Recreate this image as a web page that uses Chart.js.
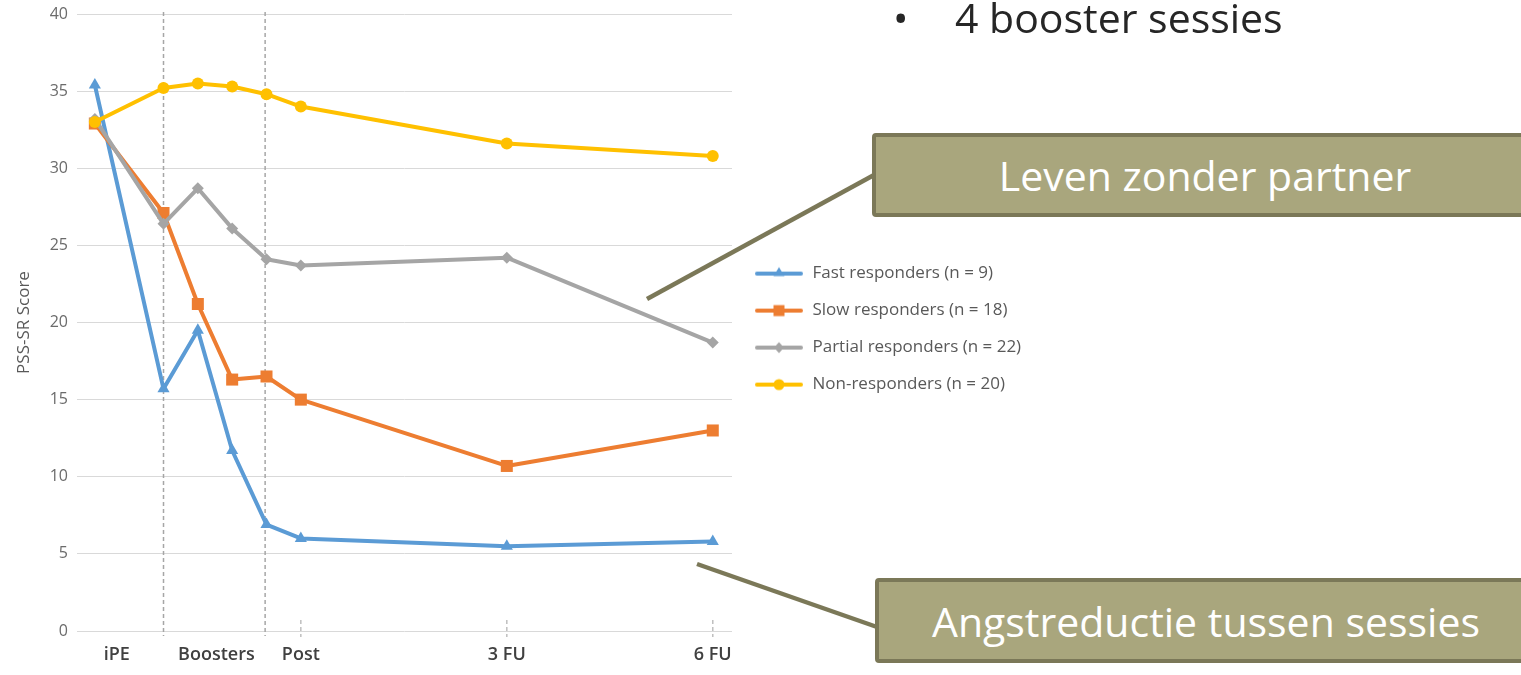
<!DOCTYPE html>
<html>
<head>
<meta charset="utf-8">
<script src="https://cdn.jsdelivr.net/npm/chart.js@4.4.1/dist/chart.umd.min.js"></script>
<style>
html,body{margin:0;padding:0;background:#fff;width:1521px;height:675px;overflow:hidden;font-family:'Open Sans',sans-serif;}
#chart{position:absolute;left:0;top:0;}
#conn{position:absolute;left:0;top:0;pointer-events:none;}
.box{position:absolute;background:#a9a67d;border:4px solid #7b7858;border-radius:4px;color:#fff;display:flex;align-items:center;justify-content:center;box-sizing:border-box;font-size:41px;font-weight:400;white-space:nowrap;}
#bullet{position:absolute;left:893px;top:-3px;font-size:41px;line-height:41px;color:#262626;white-space:nowrap;}
#bullet .dot{position:absolute;left:0;top:0;}
#bullet .txt{position:absolute;left:62px;top:0;}
</style>
</head>
<body>
<canvas id="chart" width="1521" height="675"></canvas>
<svg id="conn" width="1521" height="675">
  <line x1="647" y1="299" x2="874" y2="175" stroke="#7b7858" stroke-width="4.5"/>
  <line x1="697" y1="564" x2="877" y2="627" stroke="#7b7858" stroke-width="4.5"/>
</svg>
<div id="bullet"><span class="dot">•</span><span class="txt">4 booster sessies</span></div>
<div class="box" style="left:872px;top:133px;width:666px;height:84px;">Leven zonder partner</div>
<div class="box" style="left:875px;top:578px;width:662px;height:85px;">Angstreductie tussen sessies</div>
<script>
// ---- data ----
const categories = ['iPE', 'Boosters', 'Post', '3 FU', '6 FU'];
const categoryTicks = [0.32, 1.77, 3, 6, 9];
const timepoints = [0, 1, 1.5, 2, 2.5, 3, 6, 9];
const boosterBounds = [1, 2.48];
const followUpTicks = [3, 6, 9];
const seriesNames = ['Fast responders (n = 9)', 'Slow responders (n = 18)', 'Partial responders (n = 22)', 'Non-responders (n = 20)'];
const fast    = [35.4, 15.7, 19.5, 11.7, 6.9, 6.0, 5.5, 5.8];
const slow    = [32.9, 27.1, 21.2, 16.3, 16.5, 15.0, 10.7, 13.0];
const partial = [33.2, 26.4, 28.7, 26.1, 24.1, 23.7, 24.2, 18.7];
const nonResp = [33.0, 35.2, 35.5, 35.3, 34.8, 34.0, 31.6, 30.8];
const yTicks = [0, 5, 10, 15, 20, 25, 30, 35, 40];

// ---- styles ----
const colors = ['#5b9bd5', '#ed7d31', '#a5a5a5', '#ffc000'];
const pointStyles = ['triangle', 'rect', 'rectRot', 'circle'];
const pointRadii = [7, 8.5, 6, 6];
const allSeries = [fast, slow, partial, nonResp];

Chart.defaults.font.family = "'Open Sans', sans-serif";

function legendIcon(color, style) {
  const c = document.createElement('canvas');
  c.width = 52; c.height = 16;
  const g = c.getContext('2d');
  const cx = 27;
  g.strokeStyle = color; g.lineWidth = 4; g.lineCap = 'round';
  g.beginPath(); g.moveTo(5, 8); g.lineTo(49, 8); g.stroke();
  g.fillStyle = color; g.beginPath();
  if (style === 'triangle') { g.moveTo(cx, 1.5); g.lineTo(cx + 5.5, 10.5); g.lineTo(cx - 5.5, 10.5); g.closePath(); }
  else if (style === 'rect') { g.rect(cx - 5.5, 2.5, 11, 11); }
  else if (style === 'rectRot') { g.moveTo(cx, 2.5); g.lineTo(cx + 5, 8); g.lineTo(cx, 13.5); g.lineTo(cx - 5, 8); g.closePath(); }
  else { g.arc(cx, 8, 5.5, 0, Math.PI * 2); }
  g.fill();
  return c;
}

const datasets = allSeries.map((vals, i) => ({
  label: seriesNames[i],
  data: vals.map((v, j) => ({ x: timepoints[j], y: v })),
  borderColor: colors[i],
  backgroundColor: colors[i],
  borderWidth: 4,
  borderCapStyle: 'round',
  borderJoinStyle: 'round',
  pointStyle: pointStyles[i],
  pointRadius: pointRadii[i],
  pointBorderWidth: 0,
  pointBackgroundColor: colors[i],
  tension: 0,
  order: allSeries.length - i
}));

const guidePlugin = {
  id: 'guides',
  beforeDatasetsDraw(chart) {
    const { ctx, chartArea: a, scales: { x } } = chart;
    ctx.save();
    ctx.strokeStyle = '#a6a6a6';
    ctx.lineWidth = 1.5;
    ctx.setLineDash([4, 3]);
    boosterBounds.forEach(v => {
      const px = x.getPixelForValue(v);
      ctx.beginPath(); ctx.moveTo(px, a.top - 2); ctx.lineTo(px, a.bottom + 5); ctx.stroke();
    });
    ctx.strokeStyle = '#bfbfbf';
    followUpTicks.forEach(v => {
      const px = x.getPixelForValue(v);
      ctx.beginPath(); ctx.moveTo(px, a.bottom - 11); ctx.lineTo(px, a.bottom + 6); ctx.stroke();
    });
    ctx.restore();
  }
};

const chart = new Chart(document.getElementById('chart'), {
  type: 'line',
  data: { datasets },
  plugins: [guidePlugin],
  options: {
    responsive: false,
    animation: false,
    layout: { padding: { left: 0, top: 14, right: 500, bottom: 10 } },
    scales: {
      x: {
        type: 'linear',
        min: -0.26,
        max: 9.28,
        grid: { display: false },
        border: { display: false },
        afterBuildTicks: s => { s.ticks = categoryTicks.map(v => ({ value: v })); },
        afterFit: s => { s.paddingLeft = 0; s.paddingRight = 0; },
        ticks: {
          autoSkip: false, maxRotation: 0, padding: 5,
          font: { size: 18, weight: '600' }, color: '#404040',
          callback: (v, i) => categories[i]
        }
      },
      y: {
        min: 0,
        max: 40,
        afterBuildTicks: s => { s.ticks = yTicks.map(v => ({ value: v })); },
        afterFit: s => { s.width = 77; s.paddingTop = 0; s.paddingBottom = 0; },
        grid: { color: '#d9d9d9', lineWidth: 1, drawTicks: false },
        border: { display: false },
        ticks: { padding: 9, font: { size: 16 }, color: '#6b6b6b' },
        title: { display: true, text: 'PSS-SR Score', font: { size: 17 }, color: '#595959', padding: { top: 14, bottom: 4 } }
      }
    },
    plugins: {
      tooltip: { enabled: false },
      legend: {
        position: 'right',
        align: 'center',
        fullSize: false,
        maxWidth: 420,
        title: { display: true, text: '', font: { size: 1 }, padding: 6 },
        labels: {
          usePointStyle: true,
          pointStyleWidth: 52,
          padding: 20,
          font: { size: 17 },
          color: '#595959',
          sort: (a, b) => a.datasetIndex - b.datasetIndex,
          generateLabels: ch => ch.data.datasets.map((ds, i) => ({
            text: ds.label,
            pointStyle: legendIcon(colors[i], pointStyles[i]),
            fillStyle: colors[i],
            strokeStyle: colors[i],
            lineWidth: 0,
            hidden: false,
            datasetIndex: i,
            fontColor: '#595959'
          }))
        }
      }
    }
  }
});

// align chart area with the reference frame
const targetArea = { top: 14, right: 732, bottom: 631 };
function fitArea() {
  const a = chart.chartArea, p = chart.options.layout.padding;
  p.top += targetArea.top - a.top;
  p.bottom += a.bottom - targetArea.bottom;
  p.right += a.right - targetArea.right;
  chart.update('none');
}
fitArea(); fitArea(); fitArea();
</script>
</body>
</html>
